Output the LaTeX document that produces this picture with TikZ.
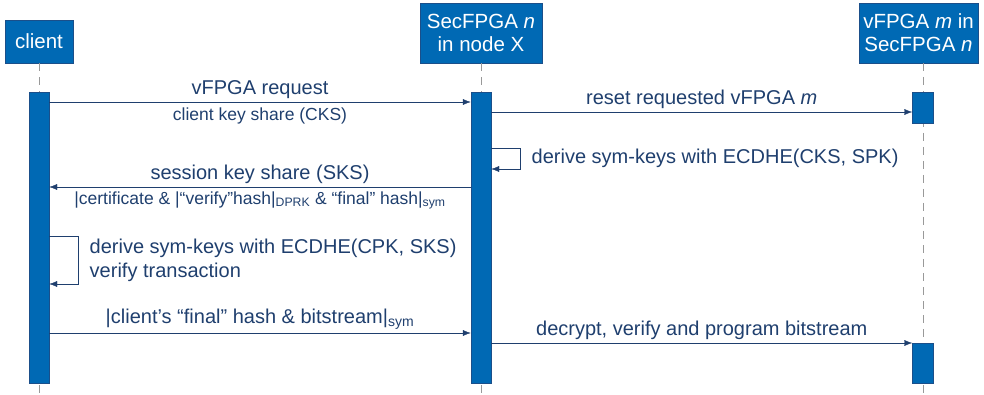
\documentclass[tikz,border=0pt]{standalone}
\usepackage{fontspec}
\setmainfont{Liberation Sans}
\usetikzlibrary{arrows.meta}
\definecolor{boxblue}{HTML}{0069B4}
\definecolor{boxedge}{HTML}{1B4F8A}
\definecolor{ink}{HTML}{1F3F6E}
\begin{document}
\begin{tikzpicture}[x=1pt,y=-1pt,
    actor/.style={draw=boxedge,fill=boxblue,text=white,align=center,inner sep=0pt,
      font=\fontsize{20.5}{23}\selectfont},
    bar/.style={draw=boxedge,fill=boxblue,minimum width=20pt,inner sep=0pt},
    life/.style={draw=gray!80,dash pattern=on 8pt off 6pt},
    msg/.style={draw=ink,-{Latex[length=8pt,width=6pt]}},
    lbl/.style={text=ink,font=\fontsize{20}{24}\selectfont},
    small/.style={text=ink,font=\fontsize{17.5}{20}\selectfont}]
  \useasboundingbox (0,0) rectangle (984,395);
  % participants
  \node[actor,minimum width=68pt,minimum height=43pt] (client) at (39,41.5) {client};
  \node[actor,minimum width=122pt,minimum height=60pt] (sec) at (481,33) {SecFPGA \textit{n}\\in node X};
  \node[actor,minimum width=119pt,minimum height=60pt] (vf) at (918.5,33) {vFPGA \textit{m} in\\SecFPGA \textit{n}};
  % lifelines
  \draw[life] (client.south) -- (client.south |- 0,395);
  \draw[life] (sec.south) -- (sec.south |- 0,395);
  \draw[life] (923,63) -- (923,395);
  % activations
  \node[bar,minimum height=291pt] (cbar) at (39,237.5) {};
  \node[bar,minimum height=291pt] (sbar) at (481,237.5) {};
  \node[bar,minimum width=21pt,minimum height=31pt] (vbar1) at (923,107.5) {};
  \node[bar,minimum width=21pt,minimum height=40pt] (vbar2) at (923,363) {};
  % messages
  \draw[msg] (cbar.east |- 0,102) -- node[lbl,above=0pt]{vFPGA request}
    node[small,below=2pt]{client key share (CKS)} (sbar.west |- 0,102);
  \draw[msg] (sbar.east |- 0,112) -- node[lbl,above=0pt]{reset requested vFPGA \textit{m}} (vbar1.west |- 0,112);
  \draw[msg] (sbar.east |- 0,148) -- ++(29,0) -- ++(0,21)
    node[lbl,right=8pt,pos=0.5]{derive sym-keys with ECDHE(CKS, SPK)} -- (sbar.east |- 0,169);
  \draw[msg] (sbar.west |- 0,187) -- node[lbl,above=0pt]{session key share (SKS)}
    node[small,below=1pt]{|certificate \& |“verify”hash|\textsubscript{DPRK} \& “final” hash|\textsubscript{sym}} (cbar.east |- 0,187);
  \draw[msg] (cbar.east |- 0,236) -- ++(29,0) -- ++(0,48)
    node[lbl,right=8pt,pos=0.5,align=left]{derive sym-keys with ECDHE(CPK, SKS)\\verify transaction} -- (cbar.east |- 0,284);
  \draw[msg] (cbar.east |- 0,333) -- node[lbl,above=0pt]{|client’s “final” hash \& bitstream|\textsubscript{sym}} (sbar.west |- 0,333);
  \draw[msg] (sbar.east |- 0,343) -- node[lbl,above=0pt]{decrypt, verify and program bitstream} (vbar2.west |- 0,343);
\end{tikzpicture}
\end{document}
